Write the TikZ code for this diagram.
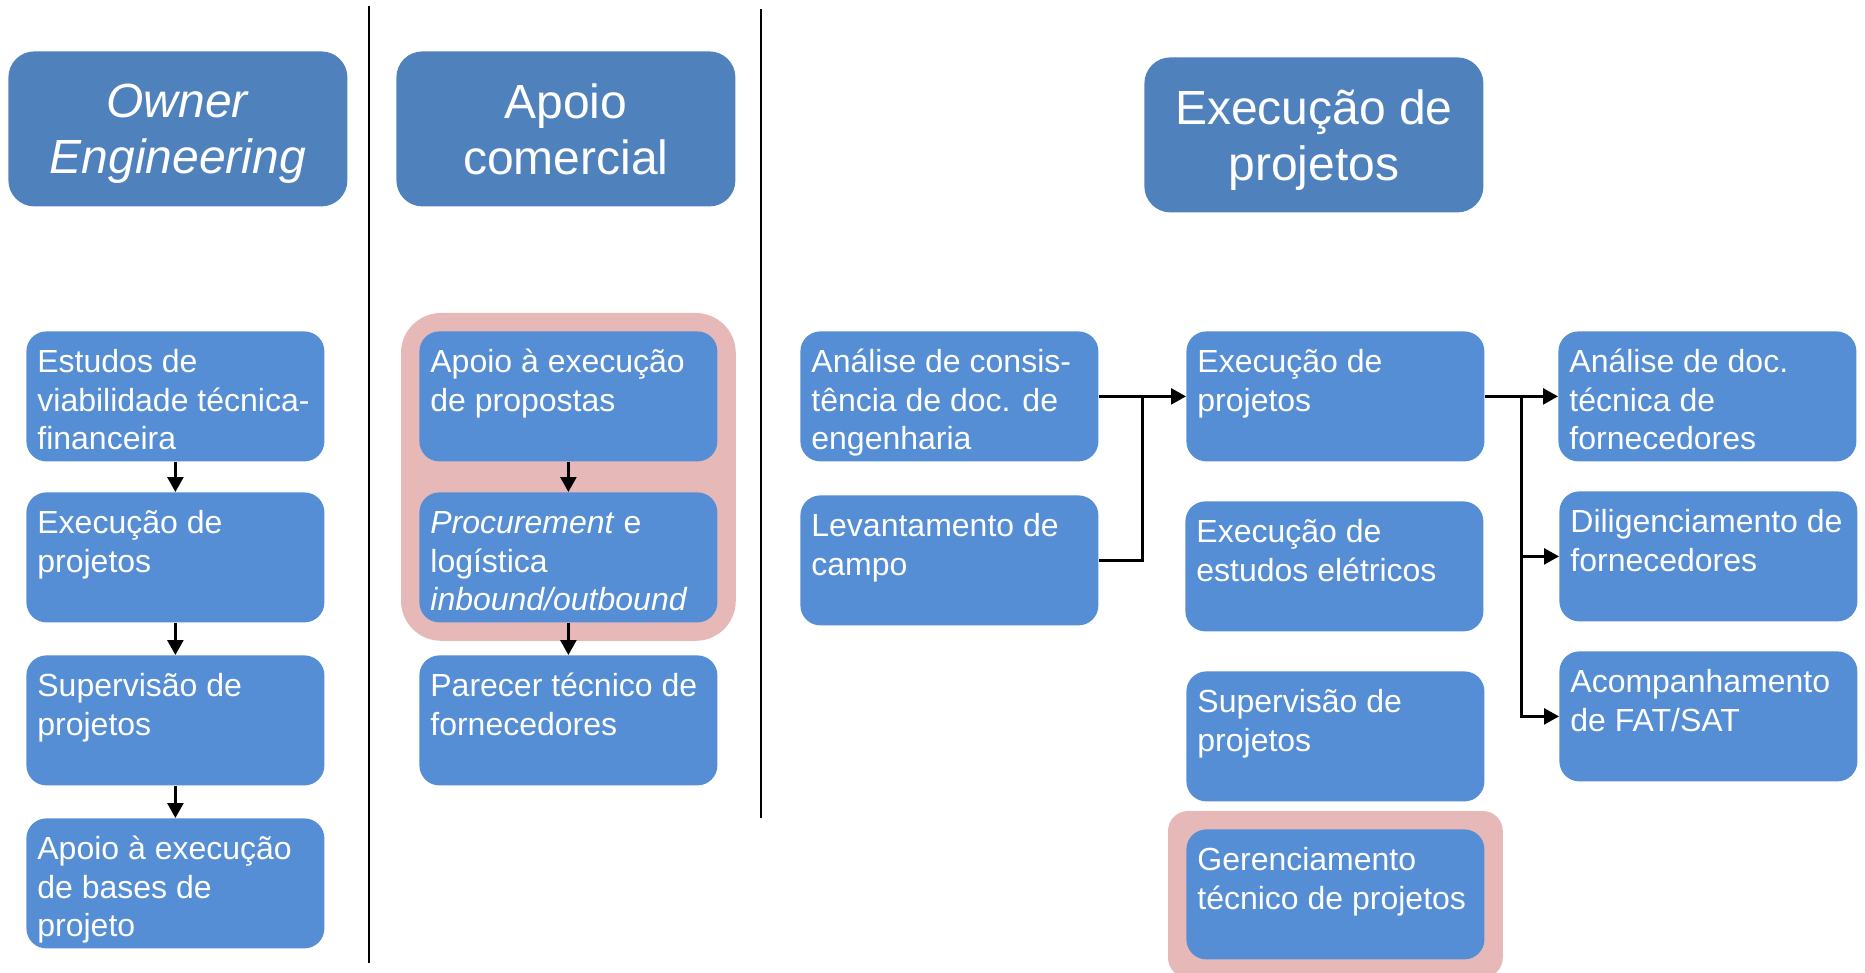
\documentclass[tikz,border=0pt]{standalone}
\usepackage{fontspec}
\setmainfont{Liberation Sans}
\usetikzlibrary{arrows.meta,fit,backgrounds,calc}
\definecolor{headblue}{RGB}{79,129,189}
\definecolor{boxblue}{RGB}{85,142,213}
\definecolor{hilite}{RGB}{230,185,184}
\newcommand{\boxtxt}[1]{\parbox[t][51pt][t]{138pt}{\raggedright\strut#1}}

\begin{document}
\begin{tikzpicture}[x=0.5pt,y=-0.5pt,
  hdbox/.style={anchor=north west, rounded corners=13pt, fill=headblue, text=white,
    minimum width=169.5pt, minimum height=77.5pt, align=center, text depth=0pt,
    font=\fontsize{24}{28}\selectfont},
  taskbox/.style={anchor=north west, rounded corners=10pt, fill=boxblue, text=white,
    inner xsep=5.5pt, inner ysep=7pt, font=\fontsize{16}{19.3}\selectfont},
  hlbox/.style={fill=hilite, inner sep=9pt},
  flowarr/.style={line width=1.3pt, -{Triangle[length=7.5pt,width=8pt]}},
  joinline/.style={line width=1.3pt},
  sepline/.style={line width=1pt}]
\useasboundingbox (0,0) rectangle (1865,973);

\draw[sepline] (368.7,6) -- (368.7,963);
\draw[sepline] (761,9.5) -- (761,818);

\node[hdbox] (oe) at (8,51) {\textit{Owner}\\\textit{Engineering}};
\node[hdbox] (ac) at (396,51) {Apoio\\comercial};
\node[hdbox] (ex) at (1144,57) {Execução de\\projetos};

% owner engineering
\node[taskbox] (oe1) at (26,331) {\boxtxt{Estudos de\\viabilidade técnica-\\financeira}};
\node[taskbox] (oe2) at (26,492) {\boxtxt{Execução de\\projetos}};
\node[taskbox] (oe3) at (26,655) {\boxtxt{Supervisão de\\projetos}};
\node[taskbox] (oe4) at (26,818) {\boxtxt{Apoio à execução\\de bases de\\projeto}};
\draw[flowarr] (oe1.south) -- (oe2.north);
\draw[flowarr] (oe2.south) -- (oe3.north);
\draw[flowarr] (oe3.south) -- (oe4.north);

% apoio comercial
\node[taskbox] (ac1) at (419,331) {\boxtxt{Apoio à execução\\de propostas}};
\node[taskbox] (ac2) at (419,492) {\boxtxt{\textit{Procurement} e\\logística\\\textit{inbound/outbound}}};
\node[taskbox] (ac3) at (419,655) {\boxtxt{Parecer técnico de\\fornecedores}};
\draw[flowarr] (ac1.south) -- (ac2.north);
\draw[flowarr] (ac2.south) -- (ac3.north);

% execucao de projetos
\node[taskbox] (an) at (800,331) {\boxtxt{Análise de consis-\\tência de doc. de\\engenharia}};
\node[taskbox] (lv) at (800,495) {\boxtxt{Levantamento de\\campo}};
\node[taskbox] (ep) at (1186,331) {\boxtxt{Execução de\\projetos}};
\node[taskbox] (ee) at (1185,501) {\boxtxt{Execução de\\estudos elétricos}};
\node[taskbox] (sp) at (1186,671) {\boxtxt{Supervisão de\\projetos}};
\node[taskbox] (gt) at (1186,829) {\boxtxt{Gerenciamento\\técnico de projetos}};
\node[taskbox] (ad) at (1558,331) {\boxtxt{Análise de doc.\\técnica de\\fornecedores}};
\node[taskbox] (dl) at (1559,491) {\boxtxt{Diligenciamento de\\fornecedores}};
\node[taskbox] (af) at (1559,651) {\boxtxt{Acompanhamento\\de FAT/SAT}};

\coordinate (j1) at ($(an.east)!.5!(ep.west)$);
\coordinate (j2) at ($(ep.east)!.5!(ad.west)$);
\draw[flowarr] (an.east) -- (ep.west);
\draw[joinline] (lv.east) -- (lv.east -| j1) -- (j1);
\draw[flowarr] (ep.east) -- (ad.west);
\draw[flowarr] (j2) |- (dl.west);
\draw[flowarr] (j2) |- (af.west);

\begin{scope}[on background layer]
\node[hlbox, rounded corners=20pt, fit=(ac1)(ac2)] (hlac) {};
\node[hlbox, rounded corners=10pt, fit=(gt)] (hlgt) {};
\end{scope}
\end{tikzpicture}
\end{document}
